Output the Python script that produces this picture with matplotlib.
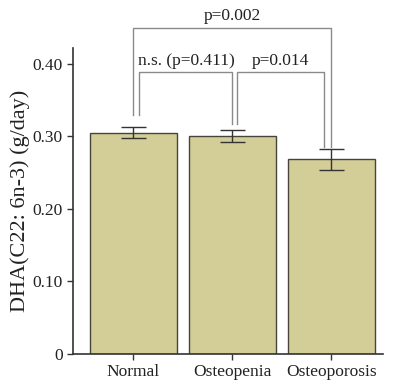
import matplotlib.pyplot as plt

plt.rcParams['font.family'] = ['Liberation Serif', 'DejaVu Serif']

groups = ['Normal', 'Osteopenia', 'Osteoporosis']
means = [0.305, 0.300, 0.268]
errs = [0.008, 0.0085, 0.015]

# significance brackets: (x left, x right, y top, left leg bottom, right leg bottom, label)
brackets = [
    (0.06, 1.00, 0.388, 0.329, 0.317, 'n.s. (p=0.411)'),
    (1.05, 1.92, 0.388, 0.317, 0.285, 'p=0.014'),
    (0.00, 1.99, 0.449, 0.329, 0.285, 'p=0.002'),
]

fig = plt.figure(figsize=(4.06, 3.92), dpi=100)
ax = fig.add_axes([73 / 406, 38 / 392, 310 / 406, 306 / 392])

x = list(range(len(groups)))
ax.bar(x, means, width=0.88, color='#d3cd97', edgecolor='#45453a', linewidth=1.0)
ax.errorbar(x, means, yerr=errs, fmt='none', ecolor='#333333', elinewidth=1.0,
            capsize=9, capthick=1.0)

for x0, x1, ytop, yl, yr, label in brackets:
    ax.plot([x0, x0, x1, x1], [yl, ytop, ytop, yr], color='#8a8a8a', lw=1.0,
            clip_on=False)
    ax.text((x0 + x1) / 2, ytop + 0.005, label, ha='center', va='bottom',
            fontsize=12.5, color='#222222', clip_on=False)

ax.set_xlim(-0.61, 2.52)
ax.set_ylim(0, 0.4215)
ax.set_yticks([0, 0.10, 0.20, 0.30, 0.40])
ax.set_yticklabels(['0', '0.10', '0.20', '0.30', '0.40'])
ax.set_xticks(x)
ax.set_xticklabels(groups)
ax.tick_params(labelsize=12.5, length=4, width=1.0, colors='#333333',
               labelcolor='#222222')
ax.set_ylabel('DHA(C22: 6n-3) (g/day)', fontsize=16, color='#222222', labelpad=2)

for s in ['top', 'right']:
    ax.spines[s].set_visible(False)
for s in ['left', 'bottom']:
    ax.spines[s].set_color('#333333')
    ax.spines[s].set_linewidth(1.2)

fig.savefig('out.png', dpi=100)
